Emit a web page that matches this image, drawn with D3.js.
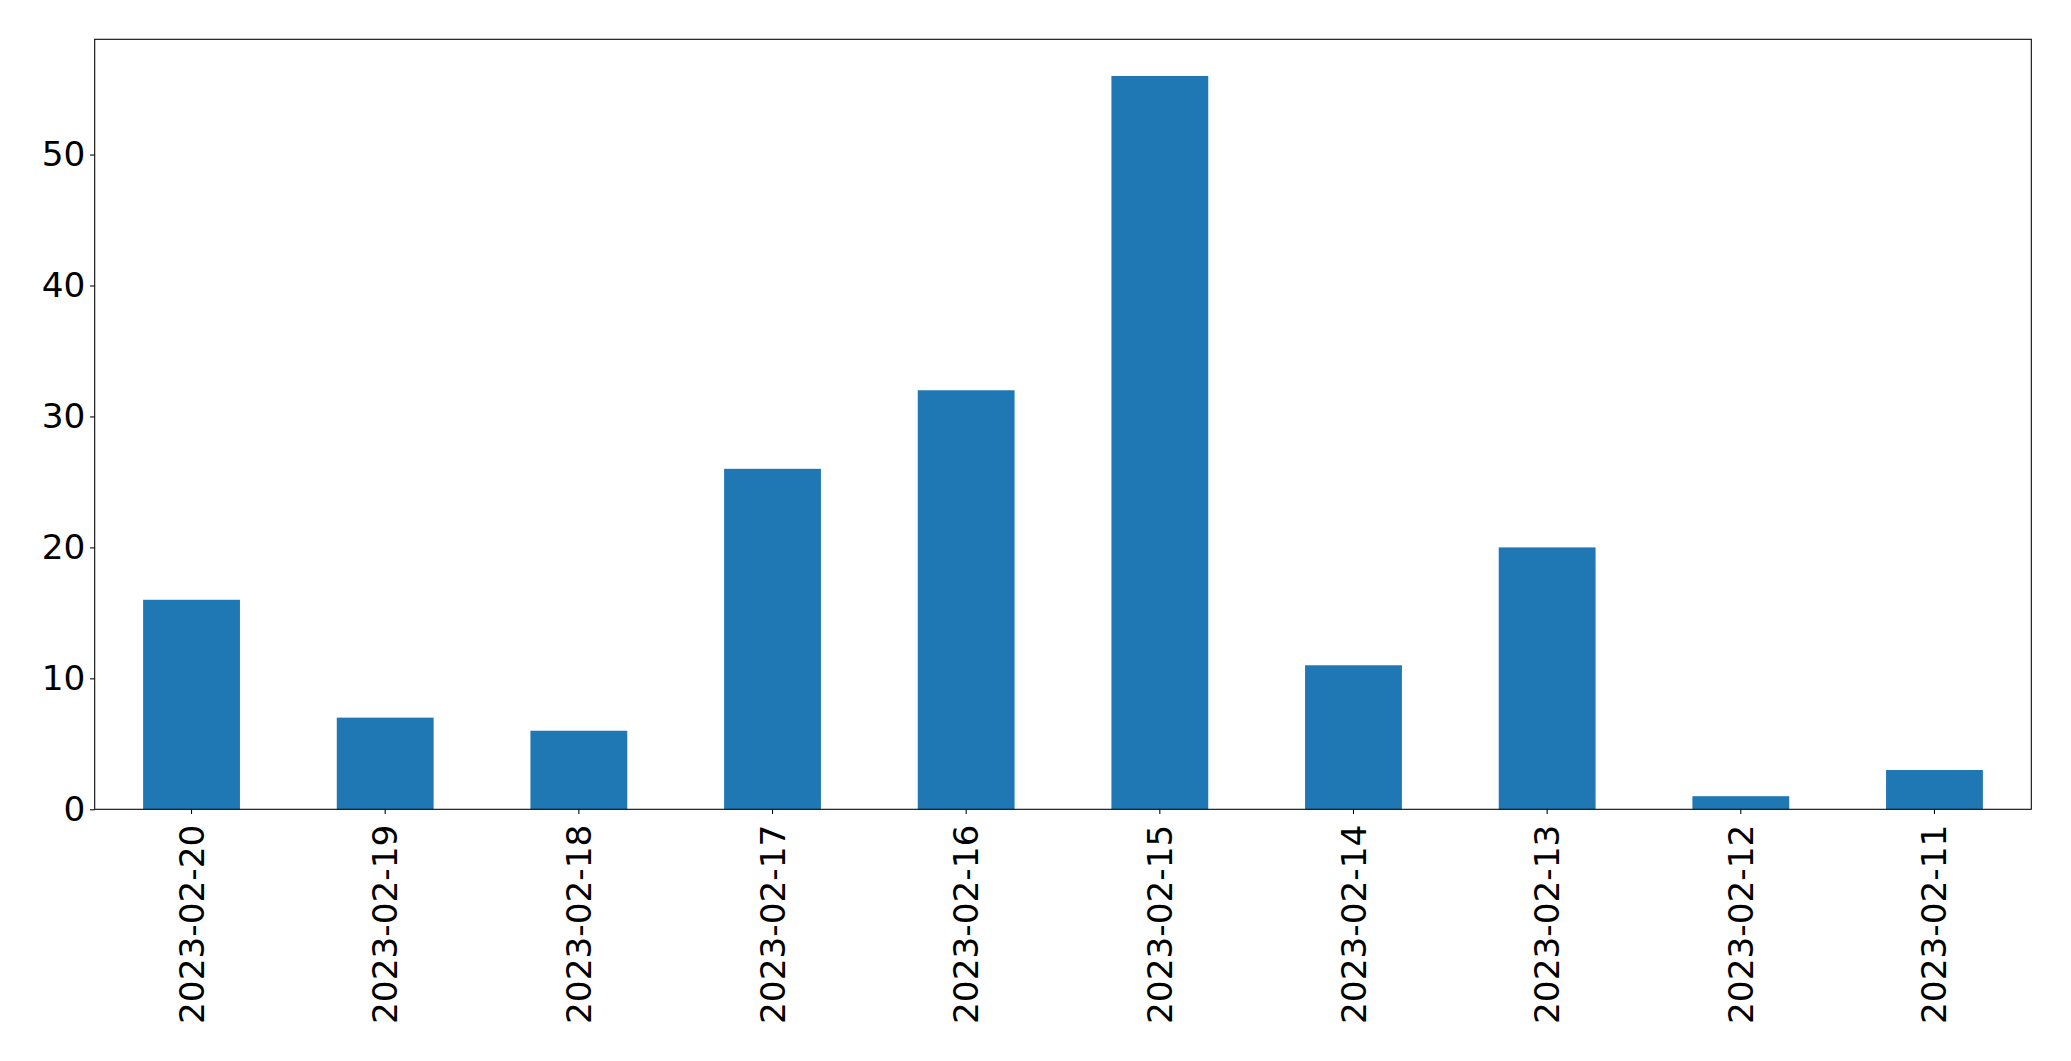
<!DOCTYPE html>
<html><head><meta charset="utf-8">
<script src="https://cdn.jsdelivr.net/npm/d3@7"></script>
<style>html,body{margin:0;padding:0;background:#fff;}</style>
</head><body>
<svg id="chart" width="2071" height="1061"></svg>
<script>
const categories = ["2023-02-20","2023-02-19","2023-02-18","2023-02-17","2023-02-16","2023-02-15","2023-02-14","2023-02-13","2023-02-12","2023-02-11"];
const values = [16,7,6,26,32,56,11,20,1,3];
const yTicks = [0,10,20,30,40,50];

const W = 2071, H = 1061;
const m = {left: 94.7, right: 2071-2031.3, top: 39.3, bottom: 1061-809.3};
const fs = 34.3;
const svg = d3.select("#chart");
const x = d3.scaleBand().domain(categories).range([m.left, W-m.right]).paddingInner(0.5).paddingOuter(0.25);
const y = d3.scaleLinear().domain([0, 56*1.05]).range([H-m.bottom, m.top]);

svg.append("g").selectAll("rect").data(values).join("rect")
  .attr("x", (d,i)=>x(categories[i]))
  .attr("width", x.bandwidth())
  .attr("y", d=>y(d))
  .attr("height", d=>y(0)-y(d))
  .attr("fill", "#1f77b4");

const xa = svg.append("g").attr("transform", `translate(0,${H-m.bottom})`)
  .call(d3.axisBottom(x).tickSize(4.67).tickPadding(4.67).tickSizeOuter(0));
xa.select(".domain").remove();
xa.selectAll("line").attr("stroke","#000").attr("stroke-width",1.07);
xa.selectAll("text").attr("font-family","DejaVu Sans").attr("font-size",fs).attr("fill","#000")
  .attr("text-anchor","end").attr("dy","0.35em")
  .attr("transform", "translate(0,9.34) rotate(-90)").attr("y",0).attr("x",-6);

const ya = svg.append("g").attr("transform", `translate(${m.left},0)`)
  .call(d3.axisLeft(y).tickValues(yTicks).tickSize(4.67).tickPadding(4.67).tickFormat(d3.format("d")));
ya.select(".domain").remove();
ya.selectAll("line").attr("stroke","#000").attr("stroke-width",1.07);
ya.selectAll("text").attr("font-family","DejaVu Sans").attr("font-size",fs).attr("fill","#000");

svg.append("rect").attr("x",m.left).attr("y",m.top)
  .attr("width",W-m.right-m.left).attr("height",H-m.bottom-m.top)
  .attr("fill","none").attr("stroke","#000").attr("stroke-width",1.07);
</script>
</body></html>
